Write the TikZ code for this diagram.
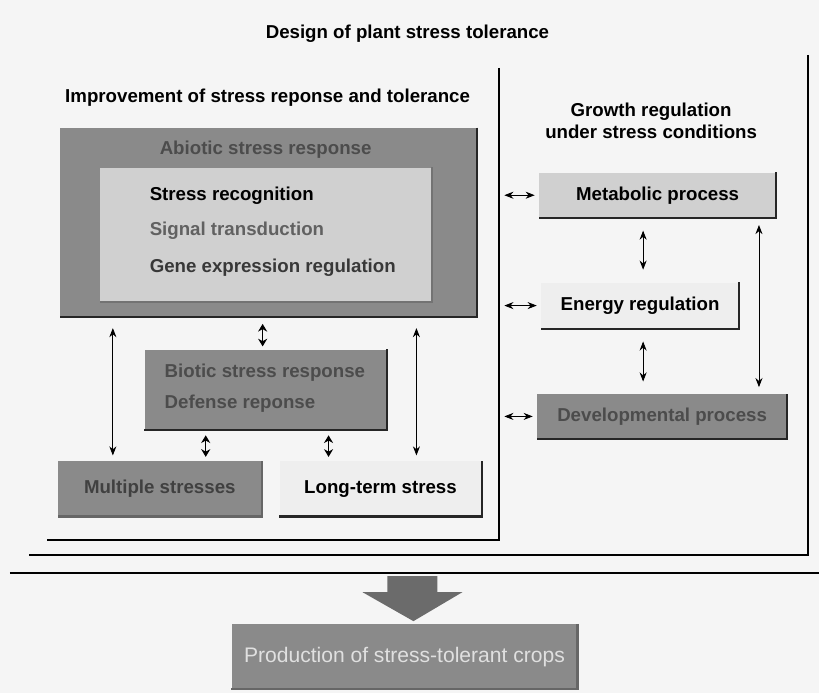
\documentclass[tikz,border=0pt]{standalone}
\usepackage{fontspec}
\setmainfont{Liberation Sans}
\usetikzlibrary{arrows.meta,positioning}

\definecolor{boxdark}{HTML}{8A8A8A}
\definecolor{boxlight}{HTML}{D0D0D0}
\definecolor{boxpale}{HTML}{EEEEEE}
\definecolor{paper}{HTML}{F5F5F5}

\begin{document}
\begin{tikzpicture}[x=0.025cm,y=-0.025cm,
    every node/.style={font=\fontsize{13.3}{16}\selectfont\bfseries},
    box/.style={rectangle, inner sep=0pt},
    rim/.style={line width=1.6pt, black!85},
    frame/.style={line width=1.6pt},
    link/.style={<->, >={Stealth[length=6.5pt,width=5pt]}, semithick},
    tick/.style={<->, >={Stealth[length=5.5pt,width=6.5pt]}, thick}]
    \fill[paper] (0,0) rectangle (820,694);
    % titles
    \node (title) at (408,34) {Design of plant stress tolerance};
    \node (lefttitle) at (268,98) {Improvement of stress reponse and tolerance};
    \node[align=center] (righttitle) at (652,121) {Growth regulation\\under stress conditions};
    % panel frames
    \draw[frame] (500,68) -- (500,541) -- (47,541);
    \draw[frame] (809,55) -- (809,556) -- (29,556);
    \draw[frame] (10,574) -- (820,574);
    % abiotic stress
    \node[box, fill=boxdark, minimum width=10.425cm, minimum height=4.725cm] (abiotic) at (268.5,222.5) {};
    \draw[rim] (abiotic.north east) |- (abiotic.south west);
    \node[text=black!70] (abtitle) at (266,150) {Abiotic stress response};
    \node[box, fill=boxlight, minimum width=8.3cm, minimum height=3.35cm] (inner) at (266,235) {};
    \draw[rim, black!55] (inner.north east) |- (inner.south west);
    \node[anchor=west] (recog) at (145,196) {Stress recognition};
    \node[anchor=west, text=black!62] (signal) at (145,231) {Signal transduction};
    \node[anchor=west, text=black!78] (geneexp) at (145,268) {Gene expression regulation};
    % biotic stress
    \node[box, fill=boxdark, minimum width=6.05cm, minimum height=2cm] (biotic) at (266,390) {};
    \draw[rim] (biotic.north east) |- (biotic.south west);
    \node[anchor=west, text=black!70] (bititle) at (160,373) {Biotic stress response};
    \node[anchor=west, text=black!70] (defense) at (160,404) {Defense reponse};
    % multiple and long-term
    \node[box, fill=boxdark, text=black!75, minimum width=5.1cm, minimum height=1.375cm] (mult) at (160,489.5) {Multiple stresses};
    \draw[rim, black!60] (mult.north east) |- (mult.south west);
    \node[box, fill=boxpale, minimum width=5.05cm, minimum height=1.375cm] (longt) at (381,489.5) {Long-term stress};
    \draw[rim] (longt.north east) |- (longt.south west);
    % growth regulation
    \node[box, fill=boxlight, minimum width=5.925cm, minimum height=1.125cm] (metab) at (658.5,195.5) {Metabolic process};
    \draw[rim] (metab.north east) |- (metab.south west);
    \node[box, fill=boxpale, minimum width=4.95cm, minimum height=1.15cm] (energy) at (641,306) {Energy regulation};
    \draw[rim] (energy.north east) |- (energy.south west);
    \node[box, fill=boxdark, text=black!70, minimum width=6.25cm, minimum height=1.1cm] (devel) at (663,417) {Developmental process};
    \draw[rim] (devel.north east) |- (devel.south west);
    % links
    \draw[link, shorten <=8pt, shorten >=4pt] (113,0 |- abiotic.south) -- (113,0 |- mult.north);
    \draw[link, shorten <=8pt, shorten >=4pt] (417,0 |- abiotic.south) -- (417,0 |- longt.north);
    \draw[tick, shorten <=5pt, shorten >=2pt] (263,0 |- abiotic.south) -- (263,0 |- biotic.north);
    \draw[tick, shorten <=4pt, shorten >=3pt] (206,0 |- biotic.south) -- (206,0 |- mult.north);
    \draw[tick, shorten <=4pt, shorten >=3pt] (329,0 |- biotic.south) -- (329,0 |- longt.north);
    \draw[link, shorten <=9pt, shorten >=9pt] (644,0 |- metab.south) -- (644,0 |- energy.north);
    \draw[link, shorten <=9pt, shorten >=9pt] (644,0 |- energy.south) -- (644,0 |- devel.north);
    \draw[link, shorten <=5pt, shorten >=5pt] (760,0 |- metab.south) -- (760,0 |- devel.north);
    \coordinate (mL) at (505,0 |- metab.west);
    \coordinate (eL) at (505,0 |- energy.west);
    \coordinate (dL) at (505,0 |- devel.west);
    \draw[link, shorten >=3pt] (mL) -- (mL -| metab.west);
    \draw[link, shorten >=3pt] (eL) -- (eL -| energy.west);
    \draw[link, shorten >=3pt] (dL) -- (dL -| devel.west);
    % result
    \fill[black!58] (388,577) -- (438,577) -- (438,593) -- (463,593) -- (414,622) -- (363,593) -- (388,593) -- cycle;
    \node[box, fill=boxdark, text=black!12, font=\fontsize{15}{18}\selectfont, minimum width=8.65cm, minimum height=1.625cm] (prod) at (405,657.5) {Production of stress-tolerant crops};
    \draw[rim, black!60] (prod.north east) |- (prod.south west);
\end{tikzpicture}
\end{document}
